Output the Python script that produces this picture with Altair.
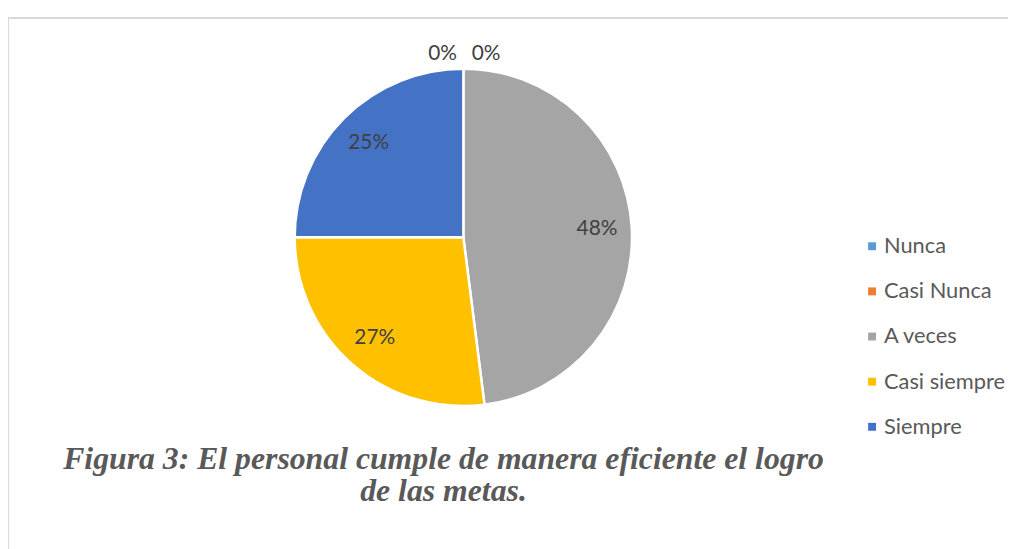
import altair as alt
import pandas as pd

categories = ["Nunca", "Casi Nunca", "A veces", "Casi siempre", "Siempre"]
percentages = [0, 0, 48, 27, 25]
colors = ["#5B9BD5", "#ED7D31", "#A5A5A5", "#FFC000", "#4472C4"]
title_lines = ["Figura 3: El personal cumple de manera eficiente el logro", "de las metas."]

df = pd.DataFrame({"cat": categories, "pct": percentages, "order": list(range(len(categories)))})
df["label"] = df["pct"].astype(str) + "%"

CX, CY = 459, 229
R = 170

base = alt.Chart(df).encode(
    theta=alt.Theta("pct:Q", stack=True),
    order=alt.Order("order:Q"),
)

pie = base.mark_arc(outerRadius=R, stroke="white", strokeWidth=2.5).encode(
    x=alt.value(CX),
    y=alt.value(CY),
    color=alt.Color(
        "cat:N",
        sort=categories,
        scale=alt.Scale(domain=categories, range=colors),
        legend=alt.Legend(
            title=None,
            orient="none",
            legendX=860,
            legendY=227,
            padding=0,
            symbolType="square",
            symbolSize=64,
            symbolStrokeWidth=0,
            labelFont="Lato",
            labelFontSize=22,
            labelColor="#595959",
            labelOffset=1,
            rowPadding=23.5,
        ),
    ),
)

label_style = dict(font="Lato", fontSize=21, color="#404040")

inner = base.mark_text(radius=135, **label_style).encode(
    x=alt.value(CX), y=alt.value(CY), text="label:N"
).transform_filter("datum.pct > 0")

zero_left = base.mark_text(radius=185, dx=-21, **label_style).encode(
    x=alt.value(CX), y=alt.value(CY), text="label:N"
).transform_filter("datum.cat == 'Nunca'")

zero_right = base.mark_text(radius=185, dx=23, **label_style).encode(
    x=alt.value(CX), y=alt.value(CY), text="label:N"
).transform_filter("datum.cat == 'Casi Nunca'")

title_df = pd.DataFrame({"t": ["\n".join(title_lines)]})
title = alt.Chart(title_df).mark_text(
    font="Liberation Serif", fontSize=32, fontStyle="italic", fontWeight="bold",
    color="#595959", align="center", baseline="alphabetic", lineBreak="\n", lineHeight=32,
).encode(x=alt.value(439), y=alt.value(463), text="t:N")

border = alt.Chart(title_df).mark_rect(fill=None, stroke="#d9d9d9", strokeWidth=2).encode(
    x=alt.value(0), y=alt.value(8), x2=alt.value(1030), y2=alt.value(600)
)

chart = alt.layer(border, pie, inner, zero_left, zero_right, title).properties(
    width=1008, height=541, autosize=alt.AutoSizeParams(type="none"), padding=0
).configure_view(stroke=None)

chart.save("out.html", embed_options={"renderer": "svg", "actions": False})
